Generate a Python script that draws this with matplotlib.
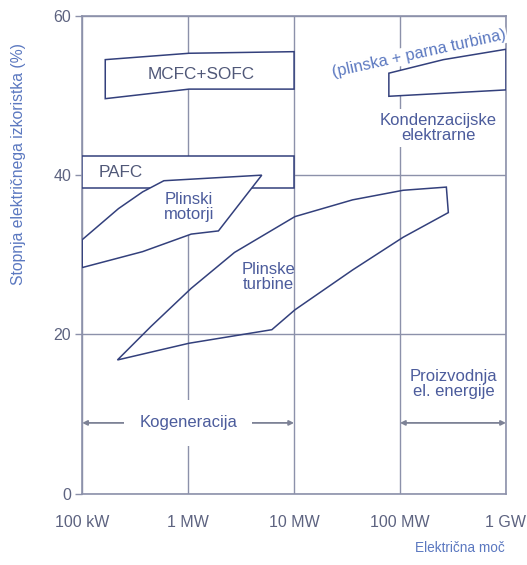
import matplotlib.pyplot as plt
from matplotlib.patches import Polygon

plt.rcParams['font.family'] = ['Liberation Sans', 'DejaVu Sans']

LINE = '#33407c'
GRID = '#8c91aa'
TICK = '#5d6380'
LABEL = '#4c5c9c'
YLAB = '#5b78c0'

# x in kW, y in %
x_ticks = [100, 1000, 10000, 100000, 1000000]
x_tick_labels = ['100 kW', '1 MW', '10 MW', '100 MW', '1 GW']
y_ticks = [0, 20, 40, 60]

pafc_x = [100, 10000, 10000, 100]
pafc_y = [38.4, 38.4, 42.4, 42.4]

mcfc_x = [165, 1020, 10000, 10000, 1020, 165]
mcfc_y = [54.5, 55.3, 55.5, 50.8, 50.8, 49.6]

motor_x = [100, 220, 372, 590, 4955, 1932, 1069, 372, 100]
motor_y = [31.9, 35.8, 37.9, 39.3, 40.0, 33.0, 32.6, 30.4, 28.4]

turbine_x = [215, 445, 1070, 2740, 10200, 35700, 107000, 274000,
             286000, 107000, 35700, 10200, 6170, 1020]
turbine_y = [16.8, 21.0, 25.8, 30.3, 34.8, 36.9, 38.1, 38.5,
             35.3, 32.2, 28.1, 23.1, 20.6, 18.9]

combined_x = [78500, 257000, 1000000, 1000000, 78500]
combined_y = [52.8, 54.5, 55.8, 50.7, 49.9]

fig = plt.figure(figsize=(5.27, 5.65), dpi=100)
ax = fig.add_axes([0.156, 0.126, 0.804, 0.846])
ax.set_xscale('log')
ax.set_xlim(100, 1000000)
ax.set_ylim(0, 60)

ax.set_xticks(x_ticks)
ax.set_xticklabels(x_tick_labels)
ax.minorticks_off()
ax.set_yticks(y_ticks)
ax.tick_params(axis='x', length=0, pad=15, labelsize=11.5, labelcolor=TICK)
ax.tick_params(axis='y', length=5, width=1, color=GRID, pad=3,
               labelsize=11.5, labelcolor=TICK)
for s in ax.spines.values():
    s.set_color(GRID)
    s.set_linewidth(1.2)
ax.grid(True, color=GRID, linewidth=1.0)
ax.set_axisbelow(True)


def shape(xs, ys, fill=True):
    p = Polygon(list(zip(xs, ys)), closed=True, facecolor='white' if fill else 'none',
                edgecolor=LINE, linewidth=1.1, zorder=3)
    ax.add_patch(p)


shape(mcfc_x, mcfc_y)
shape(pafc_x, pafc_y)
shape(motor_x, motor_y)
shape(turbine_x, turbine_y, fill=False)
shape(combined_x, combined_y)

ax.text(1330, 52.6, 'MCFC+SOFC', fontsize=12.3, color='#505878', ha='center', va='center', zorder=4)
ax.text(142, 40.3, 'PAFC', fontsize=12.3, color='#505878', ha='left', va='center', zorder=4)
ax.text(1020, 36.0, 'Plinski\nmotorji', fontsize=12, color=LABEL, ha='center', va='center',
        linespacing=1.0, zorder=4)
ax.text(5750, 27.2, 'Plinske\nturbine', fontsize=12, color=LABEL, ha='center', va='center',
        linespacing=1.0, zorder=4)
ax.text(150000, 55.3, '(plinska + parna turbina)', fontsize=11.8, color=YLAB, ha='center',
        va='center', rotation=12.4, rotation_mode='anchor', zorder=4,
        bbox=dict(facecolor='white', edgecolor='none', pad=1))
ax.text(230000, 45.9, 'Kondenzacijske\nelektrarne', fontsize=12, color=LABEL, ha='center',
        va='center', linespacing=1.0, zorder=4,
        bbox=dict(facecolor='white', edgecolor='none', pad=3))
ax.text(322000, 13.8, 'Proizvodnja\nel. energije', fontsize=12, color=LABEL, ha='center',
        va='center', linespacing=1.0, zorder=4,
        bbox=dict(facecolor='white', edgecolor='none', pad=2))

# range arrows
arrow_y = 8.9
for x0, x1 in [(100, 10000), (100000, 1000000)]:
    ax.annotate('', xy=(x0, arrow_y), xytext=(x1, arrow_y),
                arrowprops=dict(arrowstyle='<|-|>', color='#7d8296', lw=1.3,
                                mutation_scale=7, shrinkA=0, shrinkB=0), zorder=4)
ax.text(1000, arrow_y, 'Kogeneracija', fontsize=12, color=LABEL, ha='center', va='center',
        zorder=5, bbox=dict(facecolor='white', edgecolor='none', pad=11))

ax.set_ylabel('Stopnja električnega izkoristka (%)', fontsize=11.3, color=YLAB)
ax.yaxis.set_label_coords(-0.133, 0.69)
fig.text(0.958, 0.03, 'Električna moč', fontsize=9.8, color=YLAB, ha='right', va='center')

fig.savefig('out.png', dpi=100)
